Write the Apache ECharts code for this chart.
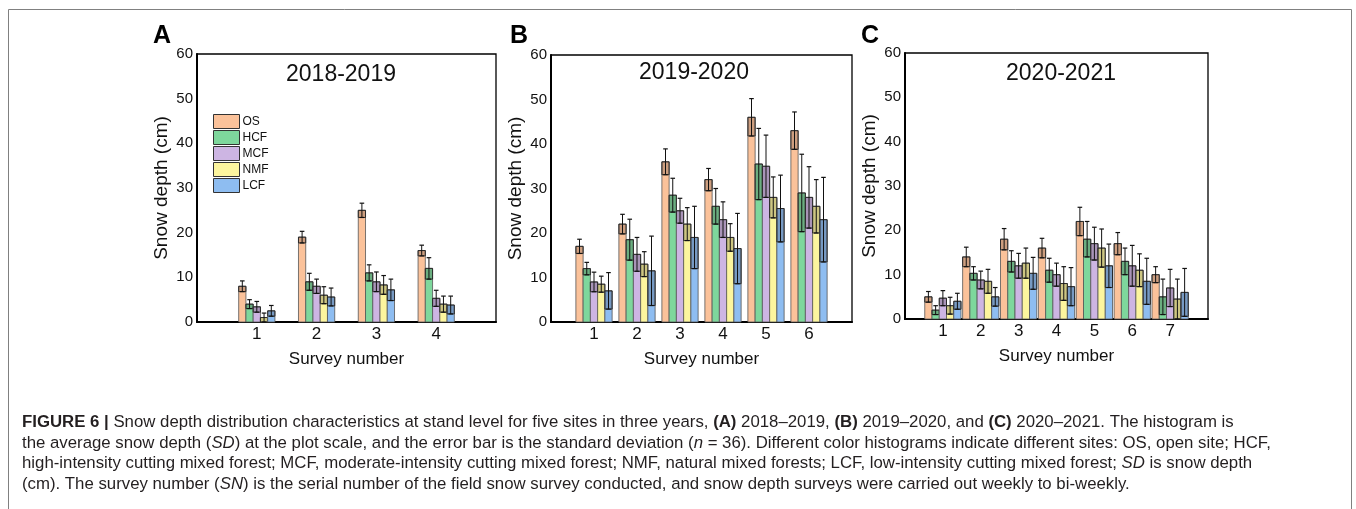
<!DOCTYPE html>
<html>
<head>
<meta charset="utf-8">
<script src="https://cdn.jsdelivr.net/npm/echarts@6/dist/echarts.min.js"></script>
<style>
html,body{margin:0;padding:0;background:#fff;}
#chart{width:1356px;height:509px;}
</style>
</head>
<body>
<div id="chart"></div>
<script>
// ---------- data ----------
const sites = ['OS', 'HCF', 'MCF', 'NMF', 'LCF'];
const siteColors = ['#FBC29A', '#7ED79C', '#CDB5E3', '#FCF59E', '#8EBDF1'];

const surveysA = [1, 2, 3, 4];
const surveysB = [1, 2, 3, 4, 5, 6];
const surveysC = [1, 2, 3, 4, 5, 6, 7];

// mean snow depth (cm), one row per site (OS, HCF, MCF, NMF, LCF)
const meanA = [
  [8, 19, 25, 16],
  [4, 9, 11, 12],
  [3.4, 8, 9, 5.3],
  [1, 6, 8.3, 4],
  [2.5, 5.6, 7.2, 3.8]
];
const sdA = [
  [1.2, 1.3, 1.6, 1.2],
  [1.0, 1.9, 1.8, 2.4],
  [1.2, 1.6, 2.2, 1.8],
  [1.0, 1.9, 2.1, 1.8],
  [1.2, 2.0, 2.4, 2.0]
];
const meanB = [
  [17, 22, 36, 32, 46, 43],
  [12, 18.5, 28.5, 26, 35.5, 29],
  [9, 15.2, 25, 23, 35, 28],
  [8.5, 13, 22, 19, 28, 26],
  [7, 11.5, 19, 16.5, 25.5, 23]
];
const sdB = [
  [1.6, 2.2, 2.9, 2.5, 4.2, 4.2],
  [1.4, 4.6, 3.8, 4.0, 8.0, 8.7],
  [2.2, 3.8, 2.8, 4.0, 7.0, 6.9],
  [1.8, 2.8, 3.7, 3.1, 4.6, 6.0],
  [4.1, 7.8, 7.0, 7.9, 7.5, 9.5]
];
const meanC = [
  [5, 14, 18, 16, 22, 17, 10],
  [2, 10.3, 13, 11, 18, 13, 5],
  [4.7, 8.8, 12, 10, 17, 12, 7],
  [3, 8.5, 12.6, 8, 16, 11, 4.5],
  [4, 5, 10.3, 7.3, 12, 8.5, 6]
];
const sdC = [
  [1.2, 2.2, 2.4, 2.2, 3.2, 2.5, 1.8],
  [1.0, 1.5, 2.4, 2.7, 4.0, 3.0, 4.0],
  [1.7, 2.0, 2.8, 2.6, 3.7, 4.6, 4.2],
  [1.9, 2.7, 3.4, 3.8, 4.3, 3.7, 4.5],
  [1.8, 2.1, 3.6, 4.3, 4.9, 5.2, 5.4]
];

const panelTitles = ['2018-2019', '2019-2020', '2020-2021'];
const panelLetters = ['A', 'B', 'C'];
const yTicks = [0, 10, 20, 30, 40, 50, 60];

// ---------- chart ----------
const FONT = '"Liberation Sans", Arial, Helvetica, sans-serif';
const chart = echarts.init(document.getElementById('chart'), null, {renderer: 'canvas'});

const grids = [
  {left: 197, top: 54, width: 299, height: 268},
  {left: 551, top: 55, width: 301, height: 267},
  {left: 905, top: 53, width: 303, height: 266}
];
const xMax = [5, 7, 8];
const panels = [
  {surveys: surveysA, mean: meanA, sd: sdA},
  {surveys: surveysB, mean: meanB, sd: sdB},
  {surveys: surveysC, mean: meanC, sd: sdC}
];

function makeRender(s) {
  return function (params, api) {
    const x = api.value(0), m = api.value(1), sd = api.value(2);
    const base = api.coord([x, 0]);
    const top = api.coord([x, m]);
    const hi = api.coord([x, m + sd]);
    const lo = api.coord([x, Math.max(0, m - sd)]);
    const step = 7.25, w = 7.25;
    const cx = base[0] + (s - 2) * step;
    const capW = 2.3;
    return {
      type: 'group',
      children: [
        {type: 'rect', shape: {x: cx - w / 2, y: top[1], width: w, height: base[1] - top[1]},
          style: {fill: siteColors[s], stroke: '#555', lineWidth: 0.8}},
        {type: 'rect', shape: {x: cx - w / 2, y: top[1], width: w, height: lo[1] - top[1]},
          style: {fill: 'rgba(40,30,30,0.22)', stroke: '#222', lineWidth: 0.9}},
        {type: 'line', shape: {x1: cx, y1: hi[1], x2: cx, y2: lo[1]},
          style: {stroke: '#111', lineWidth: 1}},
        {type: 'line', shape: {x1: cx - capW, y1: hi[1], x2: cx + capW, y2: hi[1]},
          style: {stroke: '#111', lineWidth: 1.2}},
        {type: 'line', shape: {x1: cx - capW, y1: lo[1], x2: cx + capW, y2: lo[1]},
          style: {stroke: '#111', lineWidth: 1.2}}
      ]
    };
  };
}

const series = [];
panels.forEach((p, pi) => {
  sites.forEach((name, s) => {
    series.push({
      type: 'custom',
      name: name,
      xAxisIndex: pi,
      yAxisIndex: pi,
      renderItem: makeRender(s),
      itemStyle: {color: siteColors[s]},
      encode: {x: 0, y: 1},
      data: p.surveys.map((v, i) => [v, p.mean[s][i], p.sd[s][i]]),
      clip: false,
      z: 2
    });
  });
});

const xAxes = grids.map((g, i) => ({
  gridIndex: i,
  type: 'value',
  min: 0,
  max: xMax[i],
  interval: 1,
  name: 'Survey number',
  nameLocation: 'middle',
  nameGap: 29,
  nameTextStyle: {fontSize: 17, color: '#111', fontFamily: FONT},
  axisLine: {show: true, lineStyle: {color: '#000', width: 2}},
  axisTick: {show: false},
  splitLine: {show: false},
  axisLabel: {
    fontSize: 17, color: '#111', margin: 4, fontFamily: FONT,
    formatter: v => (v === 0 || v === xMax[i]) ? '' : String(v)
  }
}));

const yAxes = grids.map((g, i) => ({
  gridIndex: i,
  type: 'value',
  min: yTicks[0],
  max: yTicks[yTicks.length - 1],
  interval: 10,
  name: 'Snow depth (cm)',
  nameLocation: 'middle',
  nameRotate: 90,
  nameGap: 26,
  nameTextStyle: {fontSize: 19, color: '#111', fontFamily: FONT},
  axisLine: {show: true, lineStyle: {color: '#000', width: 2}},
  axisTick: {show: false},
  splitLine: {show: false},
  axisLabel: {fontSize: 15, color: '#111', margin: 4, fontFamily: FONT}
}));

const titleCenters = [[341, 75], [694, 73], [1061, 74]];
const letterCenters = [[162, 36], [519, 36], [870, 36]];

const graphics = [
  {type: 'rect', shape: {x: 8.5, y: 9.5, width: 1343, height: 530},
    style: {fill: 'none', stroke: '#808080', lineWidth: 1}, silent: true}
];
panelTitles.forEach((t, i) => {
  graphics.push({type: 'text', x: titleCenters[i][0], y: titleCenters[i][1],
    style: {text: t, font: '23px ' + FONT, fill: '#111', align: 'center', verticalAlign: 'middle',
      textAlign: 'center', textVerticalAlign: 'middle'}});
  graphics.push({type: 'text', x: letterCenters[i][0], y: letterCenters[i][1],
    style: {text: panelLetters[i], font: 'bold 25px ' + FONT, fill: '#000', align: 'center', verticalAlign: 'middle',
      textAlign: 'center', textVerticalAlign: 'middle'}});
});

const capFont = 16.8;
const capRich = {
  b: {fontWeight: 'bold', fontSize: capFont, fontFamily: FONT, fill: '#231f20', color: '#231f20'},
  i: {fontStyle: 'italic', fontSize: capFont, fontFamily: FONT, fill: '#231f20', color: '#231f20'}
};
const captionLines = [
  '{b|FIGURE 6 |} Snow depth distribution characteristics at stand level for five sites in three years, {b|(A)} 2018\u20132019, {b|(B)} 2019\u20132020, and {b|(C)} 2020\u20132021. The histogram is',
  'the average snow depth ({i|SD}) at the plot scale, and the error bar is the standard deviation ({i|n} = 36). Different color histograms indicate different sites: OS, open site; HCF,',
  'high-intensity cutting mixed forest; MCF, moderate-intensity cutting mixed forest; NMF, natural mixed forests; LCF, low-intensity cutting mixed forest; {i|SD} is snow depth',
  '(cm). The survey number ({i|SN}) is the serial number of the field snow survey conducted, and snow depth surveys were carried out weekly to bi-weekly.'
];
const captionY = [422, 443, 463, 484];
captionLines.forEach((t, i) => {
  graphics.push({type: 'text', x: 22, y: captionY[i],
    style: {text: t, rich: capRich, fontSize: capFont, fontFamily: FONT, fill: '#231f20',
      align: 'left', verticalAlign: 'middle', textAlign: 'left', textVerticalAlign: 'middle'}});
});

chart.setOption({
  animation: false,
  backgroundColor: '#fff',
  textStyle: {fontFamily: FONT},
  grid: grids.map(g => Object.assign({show: true, borderColor: '#000', borderWidth: 1.3, backgroundColor: 'transparent'}, g)),
  xAxis: xAxes,
  yAxis: yAxes,
  legend: {
    orient: 'vertical',
    left: 213,
    top: 114,
    padding: 0,
    itemWidth: 26,
    itemHeight: 14,
    itemGap: 1,
    selectedMode: false,
    textStyle: {fontSize: 12, color: '#111', fontFamily: FONT, padding: [0, 0, 0, -2]},
    data: sites.map((n, i) => ({name: n, icon: 'rect',
      itemStyle: {color: siteColors[i], borderColor: '#333', borderWidth: 1}}))
  },
  series: series,
  graphic: graphics
});
</script>
</body>
</html>
